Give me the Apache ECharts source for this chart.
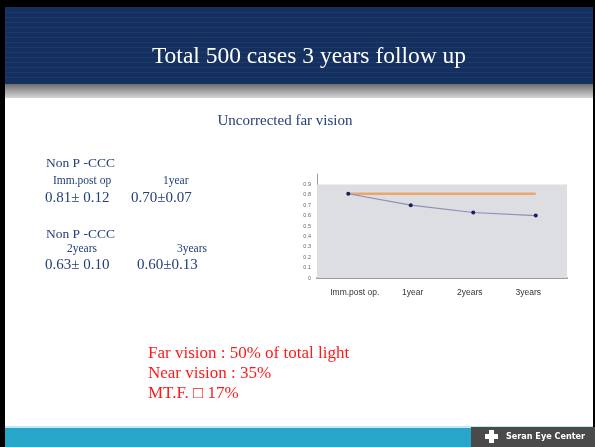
<!DOCTYPE html>
<html>
<head>
<meta charset="utf-8">
<script src="https://cdn.jsdelivr.net/npm/echarts@6/dist/echarts.min.js"></script>
<style>
  html, body { margin: 0; padding: 0; background: #fff; }
  #chart { width: 595px; height: 447px; }
</style>
</head>
<body>
<div id="chart"></div>
<script>
// chart data
var periods = ["Imm.post op.", "1year", "2years", "3years"];
var nonPccc = [0.81, 0.70, 0.63, 0.60];
var reference = [0.81, 0.81, 0.81, 0.81];
var yTicks = [0, 0.1, 0.2, 0.3, 0.4, 0.5, 0.6, 0.7, 0.8, 0.9];

// slide texts
var slideTitle = "Total 500 cases 3 years follow up";
var subTitle = "Uncorrected far vision";
var redLines = ["Far vision : 50% of total light", "Near vision : 35%", "MT.F. \u25A1 17%"];

var chart = echarts.init(document.getElementById("chart"));

var serif = "'Liberation Serif', 'DejaVu Serif', serif";
var navy = "#24407a";

// text placed by its left (or centre) point and vertical middle
function txt(x, y, s, size, color, align) {
  return {
    type: "text", silent: true,
    style: {
      x: x, y: y, text: s, font: size + "px " + serif, fill: color,
      textAlign: align || "left", textVerticalAlign: "middle"
    }
  };
}

var stripes = [];
[12, 17, 22, 27, 32, 37, 42, 47, 52, 57, 62, 67, 72, 77].forEach(function (y) {
  stripes.push({ type: "rect", shape: { x: 5, y: y, width: 588, height: 1 }, style: { fill: "#1f3a6a" }, silent: true, z: -7 });
});

var deco = [
  { type: "rect", shape: { x: 0, y: 0, width: 595, height: 447 }, style: { fill: "#000" }, silent: true, z: -10 },
  { type: "rect", shape: { x: 5, y: 7, width: 588, height: 440 }, style: { fill: "#fff" }, silent: true, z: -9 },
  { type: "rect", shape: { x: 5, y: 7, width: 588, height: 77 }, style: { fill: "#14305f" }, silent: true, z: -8 },
  { type: "rect", shape: { x: 5, y: 84, width: 588, height: 14 },
    style: { fill: new echarts.graphic.LinearGradient(0, 0, 0, 1, [
      { offset: 0, color: "#6e6e6e" }, { offset: 1, color: "#d6d6d6" }]) }, silent: true, z: -8 },
  { type: "rect", shape: { x: 5, y: 426, width: 588, height: 2 }, style: { fill: "#bfeaf4" }, silent: true, z: -8 },
  { type: "rect", shape: { x: 5, y: 428, width: 590, height: 19 }, style: { fill: "#27a6c9" }, silent: true, z: -8 },
  { type: "rect", shape: { x: 471, y: 427, width: 124, height: 20 }, style: { fill: "#4a4a4a" }, silent: true, z: -7 },
  { type: "rect", shape: { x: 485, y: 434, width: 13, height: 5 }, style: { fill: "#fff" }, silent: true },
  { type: "rect", shape: { x: 489, y: 430, width: 5, height: 13 }, style: { fill: "#fff" }, silent: true },
  { type: "text", silent: true,
    style: { x: 506, y: 437, text: "Seran Eye Center", textVerticalAlign: "middle",
      font: "bold 9px 'Liberation Sans Narrow', 'DejaVu Sans Condensed', sans-serif", fill: "#fff" } }
];

var texts = [
  txt(309, 57, slideTitle, 23.5, "#fff", "center"),
  txt(285, 121, subTitle, 15, navy, "center"),
  txt(46, 163, "Non P -CCC", 13.5, navy),
  txt(53, 181, "Imm.post op", 11.5, navy),
  txt(163, 181, "1year", 11.5, navy),
  txt(45, 198, "0.81\u00b1 0.12", 15, navy),
  txt(131, 198, "0.70\u00b10.07", 15, navy),
  txt(46, 234, "Non P -CCC", 13.5, navy),
  txt(67, 249, "2years", 11.5, navy),
  txt(177, 249, "3years", 11.5, navy),
  txt(45, 265, "0.63\u00b1 0.10", 15, navy),
  txt(137, 265, "0.60\u00b10.13", 15, navy),
  txt(148, 354, redLines[0], 17, "#ff1a1a"),
  txt(148, 374, redLines[1], 17, "#ff1a1a"),
  txt(148, 394, redLines[2], 17, "#ff1a1a")
];

// the source picture's category labels sit slightly off their points
var labelStyles = ["p0", "p1", "p2", "p3"];
var labelRich = {
  p0: { padding: [0, 0, 0, 13] },
  p1: { padding: [0, 0, 0, 4] },
  p2: { padding: [0, 7, 0, 0] },
  p3: { padding: [0, 15, 0, 0] }
};

chart.setOption({
  animation: false,
  graphic: deco.concat(stripes).concat(texts),
  grid: { left: 317, top: 174, width: 250, height: 104, containLabel: false },
  xAxis: {
    type: "category",
    data: periods,
    boundaryGap: true,
    axisLine: { show: true, lineStyle: { color: "#9a9a9a", width: 2 } },
    axisTick: { show: false },
    axisLabel: {
      interval: 0,
      hideOverlap: false,
      color: "#333", fontSize: 8.5, margin: 10, fontFamily: "'Liberation Sans', Arial, sans-serif",
      formatter: function (v, i) { return "{" + labelStyles[i] + "|" + v + "}"; },
      rich: labelRich
    },
    splitLine: { show: false }
  },
  yAxis: {
    type: "value",
    min: 0,
    max: 1,
    interval: 0.1,
    axisLine: { show: true, lineStyle: { color: "#9a9a9a", width: 1 } },
    axisTick: { show: false },
    axisLabel: {
      color: "#666", fontSize: 5.5, margin: 6, fontFamily: "'Liberation Sans', Arial, sans-serif",
      formatter: function (v) {
        var r = Math.round(v * 10) / 10;
        return yTicks.indexOf(r) >= 0 ? String(r) : "";
      }
    },
    splitLine: { show: false }
  },
  series: [
    {
      name: "ref",
      type: "line",
      data: reference,
      symbol: "none",
      lineStyle: { color: "#f0a46a", width: 2.5 },
      markArea: {
        silent: true,
        itemStyle: { color: "#dcdee2" },
        data: [[{ yAxis: 0 }, { yAxis: yTicks[yTicks.length - 1] }]]
      },
      z: 2
    },
    {
      name: "Non P-CCC",
      type: "line",
      data: nonPccc,
      symbol: "circle",
      symbolSize: 4,
      itemStyle: { color: "#1c1c5e" },
      lineStyle: { color: "#8c8fb8", width: 1.2 },
      z: 3
    }
  ]
});
</script>
</body>
</html>
